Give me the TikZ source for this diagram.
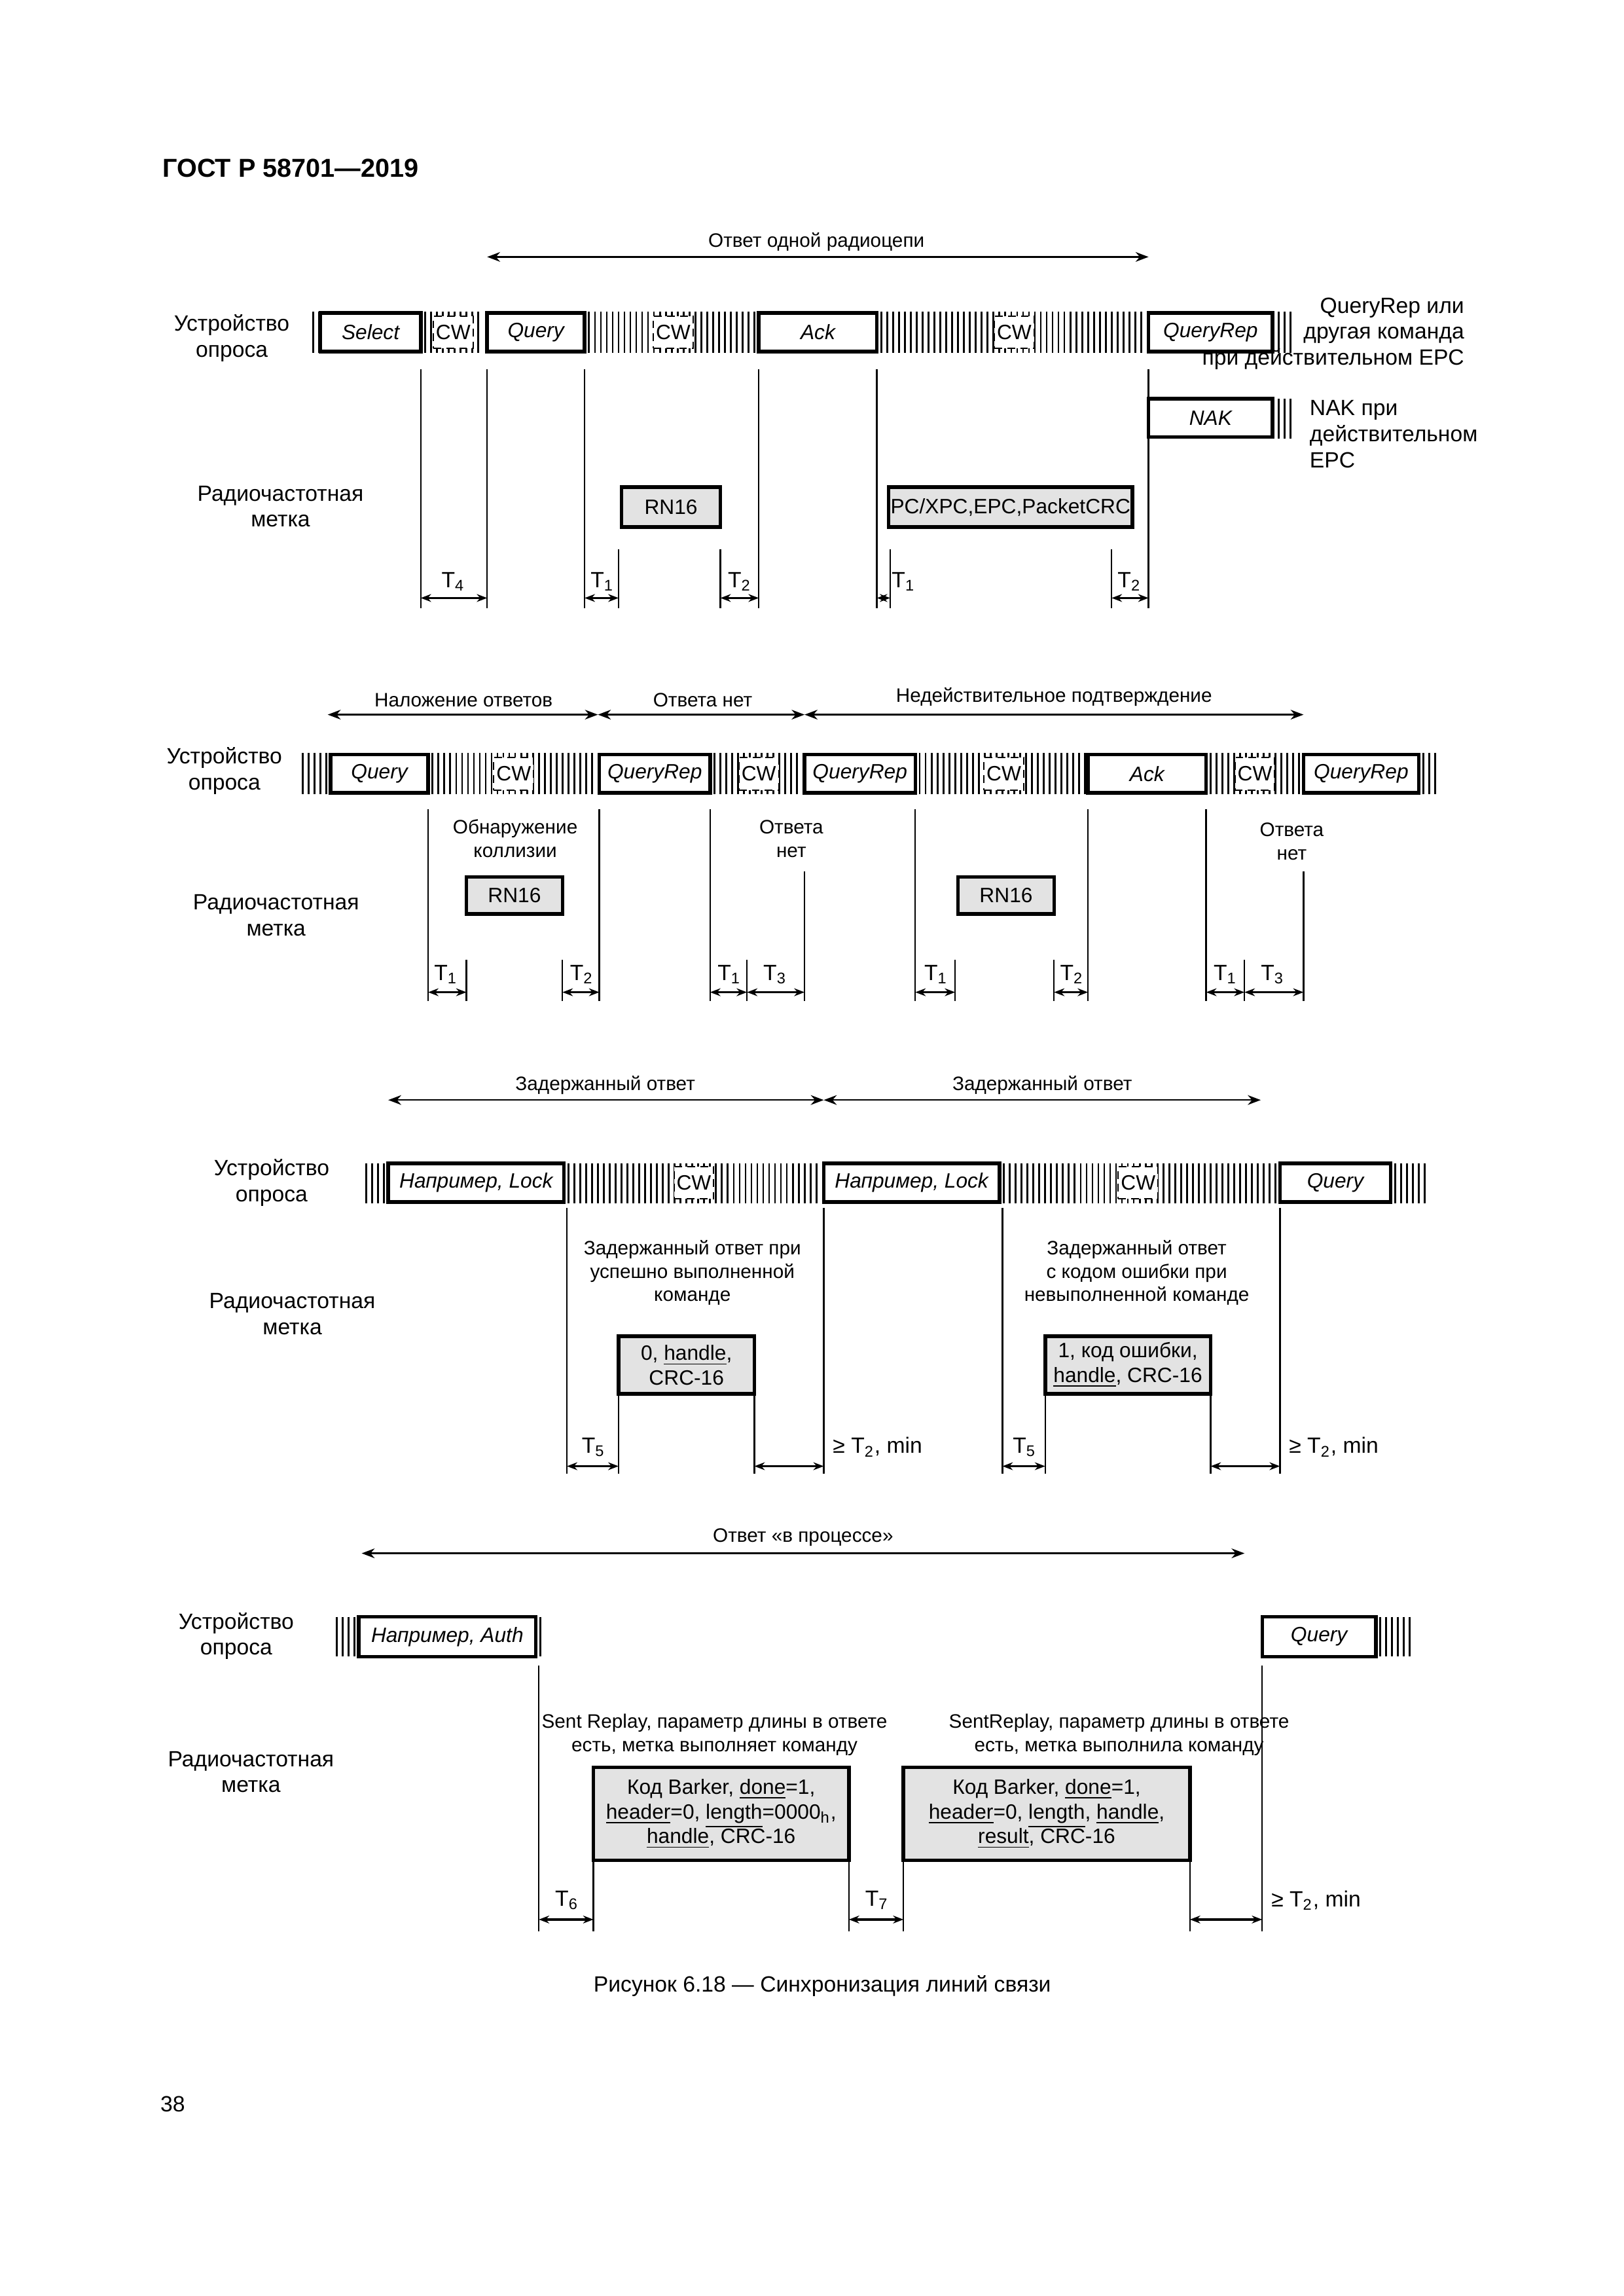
\documentclass[tikz,border=0pt]{standalone}
\usepackage{fontspec}
\setmainfont{Liberation Sans}
\usetikzlibrary{arrows.meta}
\newcommand\hatch[4]{\pgfmathtruncatemacro\nn{(#2-#1)/4}\foreach \i in {0,...,\nn}{\draw[line width=0.7pt] ({#1+4*\i},#3)--({#1+4*\i},#4);}}
\newcommand\cw[3]{\node[cwl] at (#1,#2) {CW};}
\begin{document}
\begin{tikzpicture}[x=0.02cm,y=-0.02cm,
  sz/.style 2 args={minimum width=#1*0.02cm,minimum height=#2*0.02cm},
  box/.style={draw,line width=1.4pt,fill=white,font=\fontsize{8}{9}\selectfont\itshape,inner sep=0pt},
  tag/.style={draw,line width=1.4pt,fill=gray!22,font=\fontsize{8}{9.5}\selectfont,inner sep=0pt,align=center},
  cwl/.style={fill=white,draw,densely dashed,line width=0.5pt,font=\fontsize{8}{9}\selectfont,inner sep=0pt,sz={27}{22}},
  lbl/.style={font=\fontsize{8.5}{10}\selectfont,align=center},
  sm/.style={font=\fontsize{7.5}{9}\selectfont,align=center},
  vl/.style={line width=0.6pt},
  da/.style={line width=0.6pt,{Stealth[length=5pt]}-{Stealth[length=5pt]}},
  ta/.style={line width=0.8pt,{Stealth[length=4pt]}-{Stealth[length=4pt]}}]
\useasboundingbox (0,0) rectangle (1100,1555);
\node[font=\fontsize{10}{12}\selectfont\bfseries,anchor=west] at (104,114) {ГОСТ Р 58701—2019};
% ================= Section 1
\draw[da] (330,174) -- (778,174);
\node[sm] at (553,164) {Ответ одной радиоцепи};
\node[lbl] at (157,229) {Устройство\\опроса};
\node[lbl] at (190,343) {Радиочастотная\\метка};
\hatch{212}{216}{211}{239}
\hatch{288}{326}{211}{239}
\hatch{399}{511}{211}{239}
\hatch{597}{775}{211}{239}
\hatch{866}{874}{211}{239}
\hatch{866}{874}{270}{297}
\node[box,sz={68}{26}] (sel) at (251,225) {Select};
\node[box,sz={66}{26}] (q1) at (363,225) {Query};
\node[box,sz={80}{26}] (ack) at (554,225) {Ack};
\node[box,sz={84}{26}] (qr1) at (820,225) {QueryRep};
\node[box,sz={84}{26}] (nak) at (820,283) {NAK};
\cw{307}{225}{}\cw{456}{225}{}\cw{687}{225}{}
\node[lbl,align=right,anchor=east] at (998,226) {QueryRep или\\другая команда\\при действительном EPC};
\node[lbl,align=left,anchor=west] at (881,294) {NAK при\\действительном\\EPC};
\foreach \x in {285,330,396,514,594} \draw[vl] (\x,250) -- (\x,412);
\draw[vl] (778,250) -- (778,412);
\foreach \x in {419,488,603,753} \draw[vl] (\x,372) -- (\x,412);
\node[tag,sz={67}{27}] (rn1) at (454.5,343.5) {RN16};
\node[tag,sz={165}{27}] (pc) at (684.5,343.5) {PC/XPC,EPC,PacketCRC};
\draw[ta] (285,405) -- (330,405); \node[lbl] at (307,394) {T\textsubscript{4}};
\draw[ta] (396,405) -- (419,405); \node[lbl] at (408,394) {T\textsubscript{1}};
\draw[ta] (488,405) -- (514,405); \node[lbl] at (501,394) {T\textsubscript{2}};
\draw[ta] (594,405) -- (603,405); \node[lbl] at (612,394) {T\textsubscript{1}};
\draw[ta] (753,405) -- (778,405); \node[lbl] at (765,394) {T\textsubscript{2}};
% ================= Section 2
\draw[da] (222,484) -- (405,484); \node[sm] at (314,474) {Наложение ответов};
\draw[da] (405,484) -- (545,484); \node[sm] at (476,474) {Ответа нет};
\draw[da] (545,484) -- (883,484); \node[sm] at (714,472) {Недействительное подтверждение};
\node[lbl] at (152,522) {Устройство\\опроса};
\node[lbl] at (187,620) {Радиочастотная\\метка};
\hatch{205}{221}{510}{538}
\hatch{293}{403}{510}{538}
\hatch{484}{543}{510}{538}
\hatch{623}{735}{510}{538}
\hatch{820}{880}{510}{538}
\hatch{964}{972}{510}{538}
\node[box,sz={66}{26}] (q2) at (257,524) {Query};
\node[box,sz={75}{26}] (qr2) at (443.5,524) {QueryRep};
\node[box,sz={75}{26}] (qr3) at (582.5,524) {QueryRep};
\node[box,sz={80}{26}] (ack2) at (777,524) {Ack};
\node[box,sz={78}{26}] (qr4) at (922,524) {QueryRep};
\cw{348}{524}{}\cw{514}{524}{}\cw{680}{524}{}\cw{850}{524}{}
\node[sm] at (349,568) {Обнаружение\\коллизии};
\node[sm] at (536,568) {Ответа\\нет};
\node[sm] at (875,570) {Ответа\\нет};
\foreach \x in {290,406,481,620,737,817} \draw[vl] (\x,548) -- (\x,678);
\foreach \x in {545,883} \draw[vl] (\x,590) -- (\x,678);
\foreach \x in {316,381,506,647,714,843} \draw[vl] (\x,650) -- (\x,678);
\node[tag,sz={65}{25}] (rn2) at (348.5,606.5) {RN16};
\node[tag,sz={65}{25}] (rn3) at (681.5,606.5) {RN16};
\draw[ta] (290,672) -- (316,672); \node[lbl] at (302,660) {T\textsubscript{1}};
\draw[ta] (381,672) -- (406,672); \node[lbl] at (394,660) {T\textsubscript{2}};
\draw[ta] (481,672) -- (506,672); \node[lbl] at (494,660) {T\textsubscript{1}};
\draw[ta] (506,672) -- (545,672); \node[lbl] at (525,660) {T\textsubscript{3}};
\draw[ta] (620,672) -- (647,672); \node[lbl] at (634,660) {T\textsubscript{1}};
\draw[ta] (714,672) -- (737,672); \node[lbl] at (726,660) {T\textsubscript{2}};
\draw[ta] (817,672) -- (843,672); \node[lbl] at (830,660) {T\textsubscript{1}};
\draw[ta] (843,672) -- (883,672); \node[lbl] at (862,660) {T\textsubscript{3}};
% ================= Section 3
\draw[da] (263,745) -- (558,745); \node[sm] at (410,735) {Задержанный ответ};
\draw[da] (558,745) -- (854,745); \node[sm] at (706,735) {Задержанный ответ};
\node[lbl] at (184,801) {Устройство\\опроса};
\node[lbl] at (198,890) {Радиочастотная\\метка};
\hatch{248}{260}{788}{815}
\hatch{385}{555}{788}{815}
\hatch{680}{864}{788}{815}
\hatch{945}{965}{788}{815}
\node[box,sz={119}{26}] (l1) at (322.5,801) {Например, Lock};
\node[box,sz={119}{26}] (l2) at (617.5,801) {Например, Lock};
\node[box,sz={75}{26}] (q3) at (904.5,801) {Query};
\cw{470}{801}{}\cw{771}{801}{}
\node[sm] at (469,862) {Задержанный ответ при\\успешно выполненной\\команде};
\node[sm] at (770,862) {Задержанный ответ\\с кодом ошибки при\\невыполненной команде};
\foreach \x in {384,558,679,867} \draw[vl] (\x,818) -- (\x,998);
\foreach \x in {419,511,708,820} \draw[vl] (\x,945) -- (\x,998);
\node[tag,sz={92}{39}] (b1) at (465,924.5) {0, \underline{handle},\\CRC-16};
\node[tag,sz={112}{39}] (b2) at (764,924.5) {1, код ошибки,\\\underline{handle}, CRC-16};
\draw[ta] (384,993) -- (419,993); \node[lbl] at (402,980) {T\textsubscript{5}};
\draw[ta] (511,993) -- (558,993); \node[lbl,anchor=west] at (558,980) {≥ T\textsubscript{2}, min};
\draw[ta] (679,993) -- (708,993); \node[lbl] at (694,980) {T\textsubscript{5}};
\draw[ta] (820,993) -- (867,993); \node[lbl,anchor=west] at (867,980) {≥ T\textsubscript{2}, min};
% ================= Section 4
\draw[da] (245,1052) -- (843,1052); \node[sm] at (544,1041) {Ответ «в процессе»};
\node[lbl] at (160,1108) {Устройство\\опроса};
\node[lbl] at (170,1200) {Радиочастотная\\метка};
\hatch{228}{240}{1095}{1122}
\hatch{366}{366}{1095}{1122}
\hatch{935}{955}{1095}{1122}
\node[box,sz={120}{27}] (a1) at (303,1108.5) {Например, Auth};
\node[box,sz={77}{27}] (q4) at (893.5,1108.5) {Query};
\node[sm] at (484,1175) {Sent Replay, параметр длины в ответе\\есть, метка выполняет команду};
\node[sm] at (758,1175) {SentReplay, параметр длины в ответе\\есть, метка выполнила команду};
\foreach \x in {365,855} \draw[vl] (\x,1128) -- (\x,1308);
\foreach \x in {402,575,612,806} \draw[vl] (\x,1260) -- (\x,1308);
\node[tag,sz={173}{63}] (c1) at (488.5,1228.5) {Код Barker, \underline{done}=1,\\\underline{header}=0, \underline{length}=0000\textsubscript{h},\\\underline{handle}, CRC-16};
\node[tag,sz={194}{63}] (c2) at (709,1228.5) {Код Barker, \underline{done}=1,\\\underline{header}=0, \underline{length}, \underline{handle},\\\underline{result}, CRC-16};
\draw[ta] (365,1300) -- (402,1300); \node[lbl] at (384,1287) {T\textsubscript{6}};
\draw[ta] (575,1300) -- (612,1300); \node[lbl] at (594,1287) {T\textsubscript{7}};
\draw[ta] (806,1300) -- (855,1300); \node[lbl,anchor=west] at (855,1287) {≥ T\textsubscript{2}, min};
% caption
\node[font=\fontsize{8.5}{10}\selectfont] at (557,1345) {Рисунок 6.18 — Синхронизация линий связи};
\node[font=\fontsize{8.5}{10}\selectfont] at (117,1425) {38};
\end{tikzpicture}
\end{document}
